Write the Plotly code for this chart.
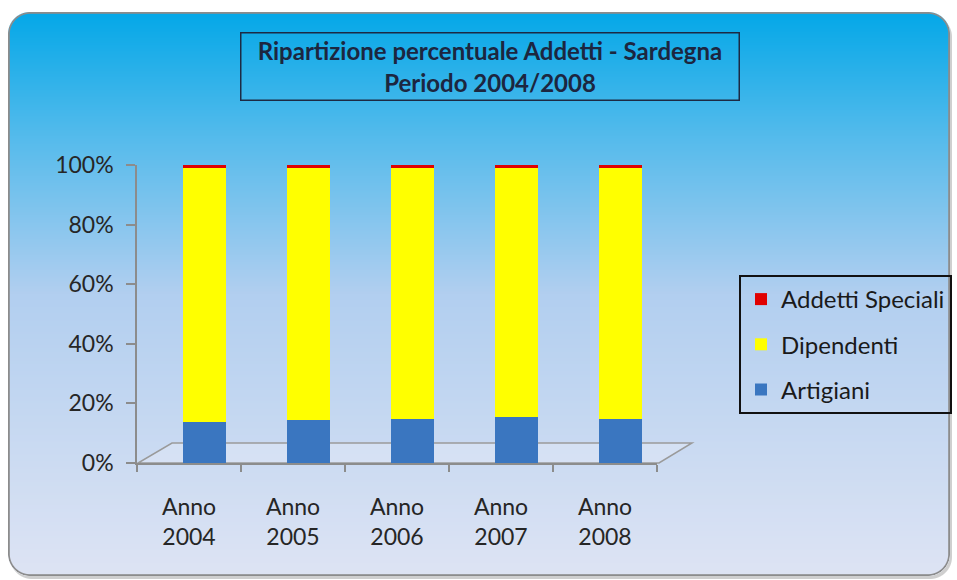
import base64
import struct
import zlib

import numpy as np
import plotly.graph_objects as go

# ---------------- data ----------------
categories = ["Anno<br>2004", "Anno<br>2005", "Anno<br>2006", "Anno<br>2007", "Anno<br>2008"]
artigiani = [13.8, 14.3, 14.6, 15.4, 14.8]
dipendenti = [85.2, 84.7, 84.4, 83.6, 84.2]
addetti_speciali = [1.0, 1.0, 1.0, 1.0, 1.0]
y_tickvals = [0, 20, 40, 60, 80, 100]
y_ticktext = ["0%", "20%", "40%", "60%", "80%", "100%"]

# ---------------- figure geometry ----------------
W, H = 957, 580
ML, MR, MT, MB = 137, 300, 165, 117
PW, PH = W - ML - MR, H - MT - MB


def px_to_paper(px, py):
    return (px - ML) / PW, (H - MB - py) / PH


# ---------------- background image (gradient, rounded frame) ----------------
def make_background():
    X0, Y0, X1, Y1, R = 8.0, 12.0, 950.0, 576.0, 22.0
    yy, xx = np.mgrid[0:H, 0:W].astype(float) + 0.5

    def sdf(ox, oy):
        cx, cy = (X0 + X1) / 2 + ox, (Y0 + Y1) / 2 + oy
        hx, hy = (X1 - X0) / 2, (Y1 - Y0) / 2
        qx = np.abs(xx - cx) - (hx - R)
        qy = np.abs(yy - cy) - (hy - R)
        return (np.hypot(np.maximum(qx, 0), np.maximum(qy, 0))
                + np.minimum(np.maximum(qx, qy), 0) - R)

    d = sdf(0, 0)
    ds = sdf(2, 3)
    a = np.clip(0.5 - d, 0, 1)
    b = np.clip(1.4 - np.abs(d + 0.9), 0, 1)
    sh = np.clip(0.5 - ds, 0, 1) * 0.35 * (1 - a)

    t = np.clip((yy - Y0) / (Y1 - Y0), 0, 1)
    stops = [0.0, 0.22, 0.5, 1.0]
    cols = np.array([[4, 168, 232], [84, 187, 236], [178, 207, 240], [222, 228, 244]], float)
    grad = np.stack([np.interp(t, stops, cols[:, k]) for k in range(3)], axis=-1)
    gray = np.array([140, 140, 140], float)
    inner = grad * (1 - b[..., None]) + gray * b[..., None]
    white = np.array([255, 255, 255], float)
    outside = white * (1 - sh[..., None]) + np.array([120, 120, 120], float) * sh[..., None]
    img = inner * a[..., None] + outside * (1 - a[..., None])
    img = np.clip(img, 0, 255).astype(np.uint8)

    raw = b"".join(b"\x00" + img[r].tobytes() for r in range(H))

    def chunk(tag, data):
        c = struct.pack(">I", len(data)) + tag + data
        return c + struct.pack(">I", zlib.crc32(tag + data) & 0xFFFFFFFF)

    png = (b"\x89PNG\r\n\x1a\n"
           + chunk(b"IHDR", struct.pack(">IIBBBBB", W, H, 8, 2, 0, 0, 0))
           + chunk(b"IDAT", zlib.compress(raw, 9))
           + chunk(b"IEND", b""))
    return "data:image/png;base64," + base64.b64encode(png).decode()


bg_src = make_background()

FONT = "Lato, 'Open Sans', sans-serif"
TXT = "#262626"
BAR_W = 0.42
BAR_OFF = -BAR_W / 2 + 0.15

fig = go.Figure()
series = [
    ("Artigiani", artigiani, "#3a76c0", 3),
    ("Dipendenti", dipendenti, "#ffff00", 2),
    ("Addetti Speciali", addetti_speciali, "#e00000", 1),
]
for name, vals, col, rank in series:
    fig.add_trace(go.Bar(
        name=name, x=categories, y=vals,
        marker=dict(color=col, line=dict(width=0)),
        width=BAR_W, offset=BAR_OFF,
        legendgroup=name, legendrank=rank,
        hoverinfo="name+y",
    ))

# floor outline (decorative, like the 3D floor of the original)
fl = [px_to_paper(138, 463), px_to_paper(659, 463), px_to_paper(692, 443), px_to_paper(172, 443)]
path = "M {} {} L {} {} L {} {} L {} {} Z".format(*[v for p in fl for v in p])

tx, ty = px_to_paper(489.5, 66)

fig.update_layout(
    width=W, height=H,
    margin=dict(l=ML, r=MR, t=MT, b=MB, pad=0, autoexpand=False),
    paper_bgcolor="white",
    plot_bgcolor="rgba(0,0,0,0)",
    barmode="stack",
    font=dict(family=FONT, size=23, color=TXT),
    showlegend=True,
    legend=dict(
        x=(739 - ML) / PW, y=(H - MB - 275) / PH,
        xanchor="left", yanchor="top",
        bgcolor="rgba(0,0,0,0)",
        bordercolor="#111111", borderwidth=2,
        font=dict(family=FONT, size=24, color="#1a1a1a"),
        traceorder="grouped",
        tracegroupgap=11,
        itemwidth=30,
    ),
    xaxis=dict(
        range=[-0.5, 4.5],
        showline=True, linecolor="#8c8c8c", linewidth=1.5,
        ticks="outside", ticklen=7, tickcolor="#8c8c8c", tickwidth=1.5,
        tickson="boundaries",
        showgrid=False, zeroline=False,
        tickfont=dict(family=FONT, size=23, color=TXT),
        ticklabelstandoff=23,
        fixedrange=True,
    ),
    yaxis=dict(
        range=[0, 100],
        tickvals=y_tickvals, ticktext=y_ticktext,
        showline=True, linecolor="#8c8c8c", linewidth=1.5,
        ticks="outside", ticklen=9, tickcolor="#8c8c8c", tickwidth=1.5,
        showgrid=False, zeroline=False,
        tickfont=dict(family=FONT, size=23, color=TXT),
        ticklabelstandoff=8,
        fixedrange=True,
    ),
    images=[dict(
        source=bg_src, xref="paper", yref="paper",
        x=-ML / PW, y=1 + MT / PH, sizex=W / PW, sizey=H / PH,
        xanchor="left", yanchor="top", sizing="stretch", layer="below",
    )],
    shapes=[dict(type="path", path=path, xref="paper", yref="paper",
                 line=dict(color="#9a9a9a", width=1.5), fillcolor="rgba(235,238,248,0.35)",
                 layer="below")],
    annotations=[dict(
        text="<b>Ripartizione percentuale Addetti - Sardegna<br>Periodo 2004/2008</b>",
        xref="paper", yref="paper", x=tx, y=ty, xanchor="center", yanchor="middle",
        showarrow=False, align="center",
        font=dict(family=FONT, size=24, color="#1c2640"),
        width=497, height=66,
        bordercolor="#1c2a44", borderwidth=1.5, borderpad=0,
        bgcolor="rgba(0,0,0,0)",
    )],
)

fig.write_html("out.html", config={"displayModeBar": False},
               post_script="document.body.style.margin='0';")
